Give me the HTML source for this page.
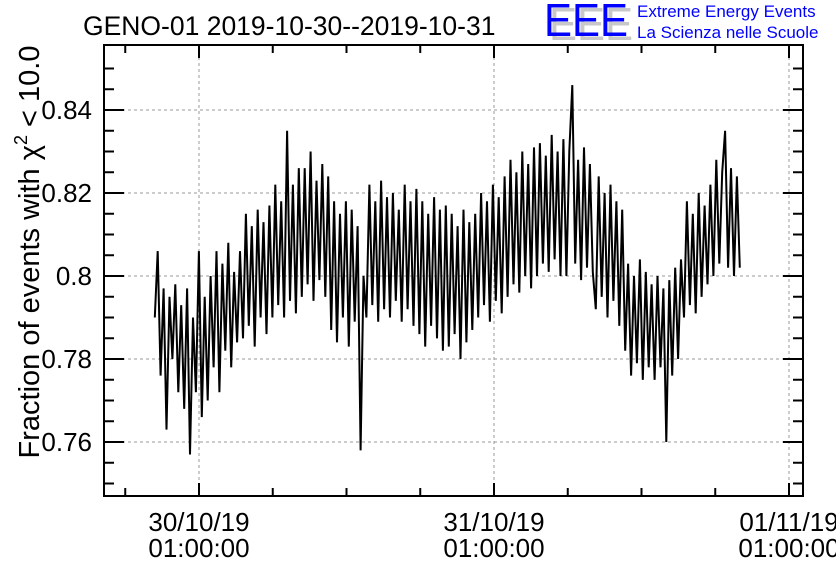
<!DOCTYPE html>
<html><head><meta charset="utf-8"><style>
html,body{margin:0;padding:0;background:#fff;}
svg{display:block;font-family:"Liberation Sans",sans-serif;}
</style></head><body>
<svg id="chart" width="836" height="572" viewBox="0 0 836 572">
<text x="83" y="35" font-size="26.5">GENO-01 2019-10-30--2019-10-31</text>
<g>
<text x="549" y="40" font-size="46" fill="#c8c8c8" textLength="84" lengthAdjust="spacingAndGlyphs">EEE</text>
<text x="544" y="36" font-size="46" fill="#0000ff" textLength="84" lengthAdjust="spacingAndGlyphs">EEE</text>
<text x="637" y="17" font-size="17" fill="#0000ff">Extreme Energy Events</text>
<text x="637" y="38" font-size="17" fill="#0000ff">La Scienza nelle Scuole</text>
</g>
<text transform="translate(39,252) rotate(-90)" text-anchor="middle" font-size="29">Fraction of events with χ<tspan font-size="18" dy="-12">2</tspan><tspan dy="12"> &lt; 10.0</tspan></text>
<g id="grid"></g><g id="ticks"></g><g id="series"></g>
<rect x="104" y="45" width="699" height="451" fill="none" stroke="#000" stroke-width="2"/>
</svg>
<script>
const yTickValues=[0.76,0.78,0.80,0.82,0.84];
const yTickLabels=["0.76","0.78","0.8","0.82","0.84"];
const xTickHours=[1,25,49];
const xTickLabels1=["30/10/19","31/10/19","01/11/19"];
const xTickLabels2=["01:00:00","01:00:00","01:00:00"];
const startHour=-2.6;
const stepHour=0.2392;
const values=[
0.790,0.806,0.776,0.797,0.763,0.795,0.780,0.798,0.772,0.793,
0.768,0.797,0.757,0.790,0.772,0.806,0.766,0.795,0.770,0.800,
0.778,0.806,0.772,0.803,0.782,0.808,0.778,0.801,0.784,0.806,
0.785,0.815,0.788,0.812,0.783,0.816,0.790,0.813,0.786,0.817,
0.790,0.822,0.793,0.818,0.790,0.835,0.794,0.822,0.791,0.826,
0.795,0.826,0.798,0.830,0.794,0.823,0.799,0.827,0.795,0.824,
0.787,0.818,0.784,0.815,0.790,0.818,0.783,0.816,0.789,0.812,
0.758,0.800,0.790,0.822,0.793,0.818,0.789,0.823,0.792,0.819,
0.790,0.820,0.794,0.816,0.789,0.822,0.792,0.818,0.788,0.821,
0.786,0.818,0.783,0.815,0.788,0.819,0.785,0.816,0.782,0.817,
0.783,0.815,0.786,0.812,0.780,0.816,0.784,0.813,0.787,0.815,
0.790,0.820,0.793,0.818,0.789,0.822,0.794,0.819,0.791,0.824,
0.795,0.828,0.798,0.825,0.796,0.830,0.800,0.827,0.797,0.831,
0.800,0.832,0.803,0.829,0.801,0.834,0.804,0.830,0.800,0.833,
0.800,0.830,0.846,0.803,0.828,0.799,0.831,0.802,0.827,0.801,
0.792,0.824,0.795,0.820,0.790,0.822,0.794,0.818,0.788,0.816,
0.782,0.803,0.776,0.800,0.779,0.804,0.775,0.801,0.778,0.798,
0.775,0.800,0.778,0.797,0.760,0.799,0.776,0.802,0.780,0.804,
0.790,0.818,0.793,0.815,0.791,0.820,0.795,0.817,0.798,0.822,
0.800,0.828,0.803,0.825,0.835,0.802,0.826,0.800,0.824,0.802];
const L=104,R=803,T=45,B=496;
function xs(h){return 199+(h-1)*295/24;}
function ys(v){return 276-(v-0.8)*4150;}
const NS="http://www.w3.org/2000/svg";
function mk(tag,attrs,parent){const e=document.createElementNS(NS,tag);for(const k in attrs)e.setAttribute(k,attrs[k]);parent.appendChild(e);return e;}
const grid=document.getElementById('grid'),ticks=document.getElementById('ticks'),series=document.getElementById('series');
yTickValues.forEach((v,i)=>{const y=ys(v);
 const g=mk('line',{x1:L,x2:R,y1:y,y2:y,stroke:'#999','stroke-dasharray':'3,3'},grid);
 
 
 const t=mk('text',{x:92,y:y+9,'text-anchor':'end','font-size':26},ticks);
 t.textContent=yTickLabels[i];
 
 
});
for(let v=0.75;v<=0.855;v+=0.005){const y=ys(v);if(y<T||y>B)continue;
 const major=Math.abs(Math.round(v*100)/100-v)<1e-6&&Math.round(v*100)%2===0;
 const len=major?20:10;
 mk('line',{x1:L,x2:L+len,y1:y,y2:y,stroke:'#000','stroke-width':2},ticks);
 mk('line',{x1:R,x2:R-len,y1:y,y2:y,stroke:'#000','stroke-width':2},ticks);
}
for(let h=-5;h<=53;h+=6){const x=xs(h);if(x<L||x>R)continue;
 const major=((h-1)%24===0);const len=major?13:8;
 mk('line',{x1:x,x2:x,y1:B,y2:B-len,stroke:'#000','stroke-width':2},ticks);
 mk('line',{x1:x,x2:x,y1:T,y2:T+len,stroke:'#000','stroke-width':2},ticks);
}
xTickHours.forEach((h,i)=>{const x=xs(h);
 const g=mk('line',{x1:x,x2:x,y1:T,y2:B,stroke:'#999','stroke-dasharray':'3,3'},grid);
 
 
 const t1=mk('text',{x:x,y:531,'text-anchor':'middle','font-size':26},ticks);t1.textContent=xTickLabels1[i];
 
 
 const t2=mk('text',{x:x,y:557,'text-anchor':'middle','font-size':26},ticks);t2.textContent=xTickLabels2[i];
 
 
});
const pts=values.map((v,i)=>xs(startHour+i*stepHour).toFixed(1)+','+ys(v).toFixed(1)).join(' ');
const pl=mk('polyline',{points:pts,fill:'none',stroke:'#000','stroke-width':2},series);


</script>
</body></html>
